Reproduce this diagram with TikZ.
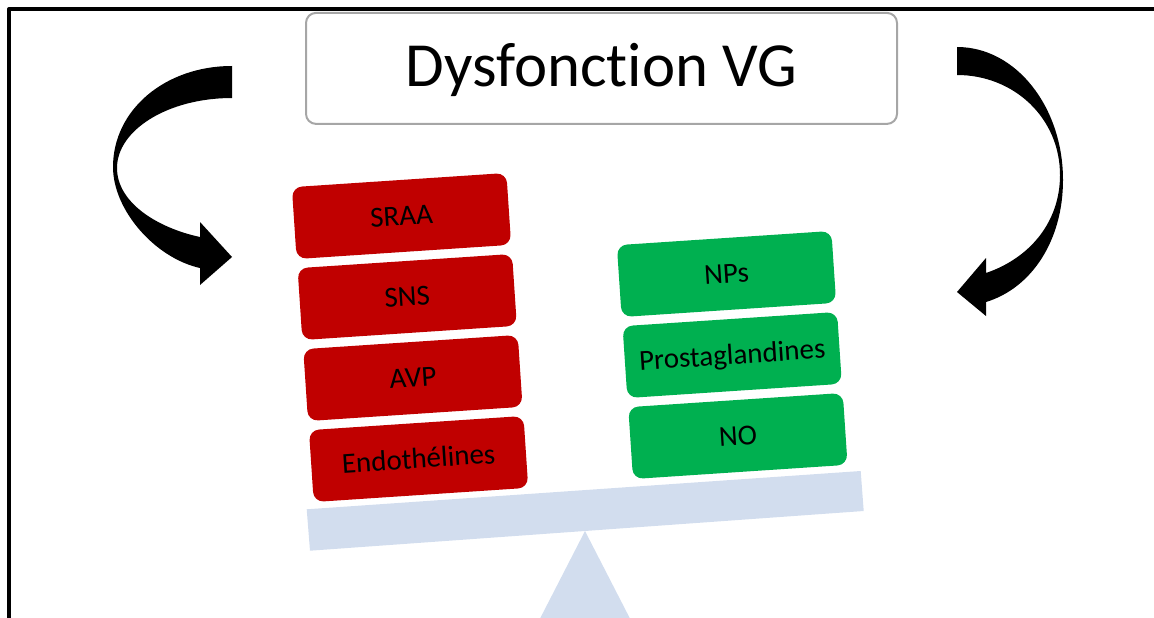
\documentclass[tikz,border=0pt]{standalone}
\usepackage{fontspec}
\setmainfont{Carlito}[Ligatures=CommonOff]
\usetikzlibrary{positioning,calc}
\definecolor{vasored}{HTML}{C00000}
\definecolor{vasogreen}{HTML}{00B050}
\definecolor{beamblue}{HTML}{D2DDEE}
\definecolor{titlegray}{HTML}{A6A6A6}
\tikzset{
  titlebox/.style={draw=titlegray, line width=2pt, rounded corners=10pt,
    minimum width=591pt, minimum height=111pt, inner sep=0pt,
    font=\fontsize{62.8}{75}\selectfont, text height=40.4pt, text depth=4pt},
  factor/.style={rounded corners=10pt, minimum width=215pt, minimum height=72pt,
    inner sep=0pt, rotate=3.8, font=\fontsize{29}{35}\selectfont,
    text height=18.7pt, text depth=0pt},
  constrict/.style={factor, fill=vasored},
  dilate/.style={factor, fill=vasogreen}
}
\begin{document}
\begin{tikzpicture}[x=1pt, y=-1pt, line join=round]
\useasboundingbox (0,0) rectangle (1154,618);
\clip (0,0) rectangle (1154,618);
% cadre
\draw[line width=4pt] (9,640) -- (9,9) -- (1170,9);
% balance
\fill[beamblue] (585,531) -- (529,640) -- (641,640) -- cycle;
\fill[beamblue] (306.7,509.3) -- (860.7,471) -- (863.7,511) -- (310,550.7) -- cycle;
% titre
\node[titlebox] (VG) at (601.5,68.4) {Dysfonction VG};
% systemes vasoconstricteurs
\node[constrict] (SRAA) at (401.5,216) {SRAA};
\node[constrict] (SNS)  at (407.2,297) {SNS};
\node[constrict] (AVP)  at (412.9,378) {AVP};
\node[constrict] (ET)   at (418.6,459) {Endothélines};
% systemes vasodilatateurs
\node[dilate] (NP) at (726.5,274) {NPs};
\node[dilate] (PG) at (732.2,355) {Prostaglandines};
\node[dilate] (NO) at (737.9,436) {NO};
% fleches courbes
\fill (232,66) .. controls (165,66) and (113,110) .. (113,167)
  .. controls (113,210) and (155,258) .. (200,268)
  -- (200,285) -- (232,257) -- (200,222) -- (200,237)
  .. controls (158,228) and (117,203) .. (117,168)
  .. controls (117,130) and (168,98) .. (232,98) -- cycle;
\fill (957,47) .. controls (1016,47) and (1063,107) .. (1063,180)
  .. controls (1063,240) and (1032,288) .. (986,302)
  -- (986,316) -- (957,292) -- (986,258) -- (986,273)
  .. controls (1030,258) and (1060,222) .. (1060,175)
  .. controls (1060,118) and (1014,75) .. (957,75) -- cycle;
\end{tikzpicture}
\end{document}
